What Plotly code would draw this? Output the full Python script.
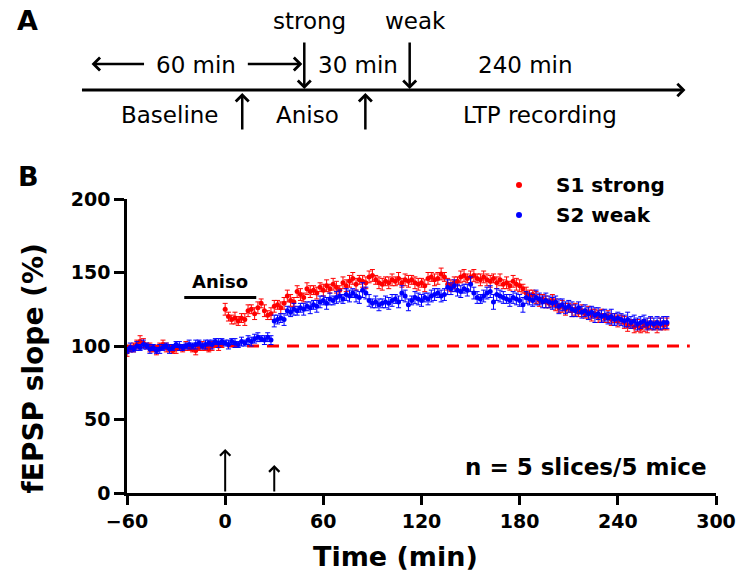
import plotly.graph_objects as go

# ---------------- data ----------------
time_min = list(range(-60, 272, 2))  # 2-min sampling grid, -60 .. 270

s1_strong = [
    96, 98, 99, 101, 103, 102, 100, 99, 98, 97,
    100, 101, 99, 98, 97, 98, 99, 98, 100, 99,
    98, 97, 99, 100, 99, 98, 100, 101, 100, 101,
    125, 120, 118, 119, 117, 119, 118, 124, 125, 122,
    126, 129, 124, 121, 122, 127, 128, 126, 129, 134,
    131, 130, 137, 135, 133, 139, 137, 138, 136, 140,
    138, 141, 139, 142, 140, 138, 143, 141, 144, 146,
    142, 145, 144, 143, 147, 148, 145, 143, 142, 144,
    143, 145, 144, 146, 143, 145, 144, 145, 143, 142,
    143, 141, 146, 147, 145, 146, 149, 147, 142, 141,
    143, 144, 147, 148, 146, 147, 148, 146, 145, 147,
    145, 144, 146, 143, 145, 142, 143, 141, 144, 142,
    141, 139, 136, 134, 135, 133, 131, 132, 130, 129,
    131, 128, 126, 127, 125, 126, 124, 125, 123, 124,
    122, 123, 121, 122, 120, 121, 119, 120, 118, 119,
    117, 118, 116, 114, 115, 113, 114, 112, 114, 113,
    115, 114, 113, 115, 114, 115,
]
s1_sem = [
    3, 2, 3, 3, 4, 3, 2, 3, 2, 3,
    2, 3, 3, 2, 2, 3, 2, 2, 3, 2,
    2, 3, 2, 3, 2, 2, 3, 2, 3, 2,
    4, 3, 3, 4, 3, 3, 4, 4, 3, 4,
    4, 3, 4, 3, 4, 4, 3, 4, 4, 4,
    4, 3, 4, 4, 3, 4, 4, 3, 4, 3,
    4, 4, 3, 4, 4, 3, 4, 4, 4, 4,
    4, 3, 4, 4, 4, 4, 3, 4, 4, 3,
    4, 4, 3, 4, 3, 4, 4, 3, 4, 4,
    3, 4, 4, 3, 4, 4, 4, 3, 4, 4,
    4, 3, 4, 4, 3, 4, 4, 3, 4, 4,
    4, 4, 3, 4, 4, 3, 4, 3, 4, 4,
    4, 3, 4, 4, 3, 4, 4, 3, 4, 3,
    4, 4, 3, 4, 4, 3, 4, 4, 3, 4,
    3, 4, 4, 3, 4, 4, 3, 4, 4, 3,
    4, 3, 4, 4, 3, 4, 4, 3, 4, 4,
    4, 3, 4, 4, 3, 4,
]

s2_weak = [
    97, 99, 98, 100, 99, 101, 100, 98, 99, 97,
    98, 99, 100, 98, 99, 101, 100, 99, 100, 101,
    100, 101, 102, 100, 101, 102, 101, 103, 102, 103,
    102, 101, 103, 102, 101, 103, 102, 104, 103, 105,
    106, 105, 104, 106, 104, 117, 118, 119, 118, 124,
    123, 125, 124, 126, 125, 127, 126, 128, 127, 130,
    131, 129, 132, 131, 133, 134, 132, 135, 134, 136,
    134, 133, 138, 136, 131, 129, 130, 128, 129, 130,
    129, 131, 132, 130, 136, 134, 128, 131, 133, 132,
    131, 133, 132, 134, 135, 136, 134, 135, 140, 139,
    141, 138, 137, 139, 138, 142, 136, 133, 132, 134,
    136, 137, 130, 135, 134, 133, 132, 131, 133, 132,
    131, 128, 133, 132, 131, 133, 132, 130, 131, 130,
    129, 130, 127, 128, 126, 127, 125, 124, 126, 123,
    124, 122, 123, 121, 122, 120, 121, 119, 120, 118,
    119, 118, 117, 118, 116, 117, 115, 116, 117, 115,
    116, 115, 116, 115, 116, 116,
]
s2_sem = [
    2, 3, 2, 3, 2, 3, 2, 3, 2, 2,
    3, 2, 2, 3, 2, 2, 3, 2, 2, 3,
    2, 3, 2, 2, 3, 2, 3, 2, 3, 2,
    2, 3, 2, 3, 2, 3, 2, 3, 3, 3,
    3, 2, 3, 3, 3, 4, 3, 3, 4, 3,
    3, 4, 3, 3, 4, 3, 4, 3, 4, 4,
    3, 4, 4, 3, 4, 4, 3, 4, 4, 3,
    4, 4, 5, 4, 4, 3, 4, 4, 3, 4,
    4, 4, 3, 4, 5, 4, 4, 3, 4, 4,
    4, 3, 4, 4, 4, 3, 4, 4, 5, 4,
    4, 4, 4, 3, 4, 5, 4, 4, 3, 4,
    4, 4, 5, 4, 4, 4, 3, 4, 4, 4,
    4, 5, 4, 4, 4, 5, 4, 4, 5, 4,
    4, 4, 5, 4, 4, 4, 5, 4, 4, 4,
    4, 4, 4, 5, 4, 4, 4, 4, 5, 4,
    4, 4, 4, 5, 4, 4, 4, 4, 4, 4,
    4, 4, 4, 4, 4, 4,
]

baseline_level = 100
baseline_span = [-60, 284]
aniso_span = [-25, 19]
aniso_level = 133
stim_times = [0, 30]
stim_arrow_tops = [30, 19]

x_ticks = [-60, 0, 60, 120, 180, 240, 300]
y_ticks = [0, 50, 100, 150, 200]

RED = "#FF0000"
BLUE = "#0000FF"

# ---------------- layout geometry ----------------
W, H = 748, 579
ML, MR, MT, MB = 127, 23, 199, 86
PW = W - ML - MR
PH = H - MT - MB


def pxx(x):
    return (x - ML) / PW


def pxy(y):
    return (H - MB - y) / PH


BOLD = dict(family="DejaVu Sans", weight="bold", color="black")
REG = dict(family="DejaVu Sans", color="black")

fig = go.Figure()

fig.add_trace(go.Scatter(
    x=baseline_span, y=[baseline_level, baseline_level], mode="lines",
    line=dict(color=RED, width=3, dash="12px,8px"), showlegend=False,
    hoverinfo="skip", cliponaxis=False,
))

fig.add_trace(go.Scatter(
    x=time_min, y=s1_strong, mode="markers", name="S1 strong",
    marker=dict(color=RED, size=5),
    error_y=dict(type="data", array=s1_sem, visible=True, color=RED,
                 thickness=1, width=2.5),
    cliponaxis=False, showlegend=False,
))
fig.add_trace(go.Scatter(
    x=time_min, y=s2_weak, mode="markers", name="S2 weak",
    marker=dict(color=BLUE, size=5),
    error_y=dict(type="data", array=s2_sem, visible=True, color=BLUE,
                 thickness=1, width=2.5),
    cliponaxis=False, showlegend=False,
))

shapes = []
annotations = []


def label(x, y, text, font, xanchor="center", yanchor="middle", **kw):
    annotations.append(dict(xref="paper", yref="paper", x=pxx(x), y=pxy(y),
                            text=text, showarrow=False, xanchor=xanchor,
                            yanchor=yanchor, font=font, **kw))


# Aniso bar in panel B
shapes.append(dict(type="line", xref="x", yref="y",
                   x0=aniso_span[0], x1=aniso_span[1],
                   y0=aniso_level, y1=aniso_level,
                   line=dict(color="black", width=3)))
annotations.append(dict(xref="x", yref="y", x=(aniso_span[0] + aniso_span[1]) / 2,
                        y=aniso_level + 11, text="Aniso", showarrow=False,
                        xanchor="center", yanchor="middle",
                        font=dict(size=18, **BOLD)))

# stimulation arrows in panel B
for t, top in zip(stim_times, stim_arrow_tops):
    annotations.append(dict(xref="x", yref="y", x=t, y=top,
                            axref="x", ayref="y", ax=t, ay=0,
                            text="", showarrow=True, arrowhead=4,
                            arrowsize=1, arrowwidth=2, arrowcolor="black"))

label(718, 467, "n = 5 slices/5 mice", dict(size=23, **BOLD), xanchor="right")

# manual legend
for yy, col, name in [(185, RED, "S1 strong"), (215, BLUE, "S2 weak")]:
    shapes.append(dict(type="circle", xref="paper", yref="paper",
                       xsizemode="pixel", ysizemode="pixel",
                       xanchor=pxx(525), yanchor=pxy(yy),
                       x0=-3, x1=3, y0=-3, y1=3,
                       fillcolor=col, line=dict(width=0)))
    label(561, yy, name, dict(size=20, **BOLD), xanchor="left")

# axis titles
label(32, 368, "fEPSP slope (%)", dict(size=28, **BOLD), textangle=-90)
label(400, 556, "Time (min)", dict(size=27, **BOLD))

# panel letters
label(26, 20, "A", dict(size=27, **BOLD))
label(27, 177, "B", dict(size=27, **BOLD))


# ---------------- panel A (protocol scheme) ----------------
def arrow(x_tip, y_tip, x_tail, y_tail, width=2.5, size=1.0):
    annotations.append(dict(xref="paper", yref="paper",
                            x=pxx(x_tip), y=pxy(y_tip),
                            ax=x_tail - x_tip, ay=y_tail - y_tip,
                            text="", showarrow=True, arrowhead=4,
                            arrowsize=size, arrowwidth=width,
                            arrowcolor="black"))


arrow(694, 90, 89, 90, width=3, size=0.8)      # main time line
arrow(91, 64, 145, 64)                           # <- 60 min
arrow(305, 64, 249, 64)                          # 60 min ->
arrow(307, 89, 307, 41)                          # strong
arrow(414, 89, 414, 41)                          # weak
arrow(244, 93, 244, 131)                         # up arrow 1
arrow(369, 93, 369, 131)                         # up arrow 2

scheme_text = [
    ("strong", 312, 21), ("weak", 420, 21),
    ("60 min", 197, 65), ("30 min", 362, 65), ("240 min", 532, 65),
    ("Baseline", 171, 115), ("Aniso", 310, 115), ("LTP recording", 546, 115),
]
for txt, x, y in scheme_text:
    label(x, y, txt, dict(size=23, **REG))

axis_common = dict(showgrid=False, zeroline=False, showline=True,
                   linecolor="black", linewidth=2.5, ticks="outside",
                   tickcolor="black", tickwidth=2.5,
                   tickfont=dict(size=19, **BOLD))

fig.update_layout(
    width=W, height=H,
    margin=dict(l=ML, r=MR, t=MT, b=MB),
    paper_bgcolor="white", plot_bgcolor="white",
    showlegend=False,
    xaxis=dict(range=[-60, 300], tickvals=x_ticks, ticklen=9, **axis_common),
    yaxis=dict(range=[0, 200], tickvals=y_ticks, ticklen=10, **axis_common),
    shapes=shapes, annotations=annotations,
)

fig.write_html(
    "out.html",
    config={"displayModeBar": False},
    post_script="document.body.style.margin='0';document.body.style.overflow='hidden';",
)
